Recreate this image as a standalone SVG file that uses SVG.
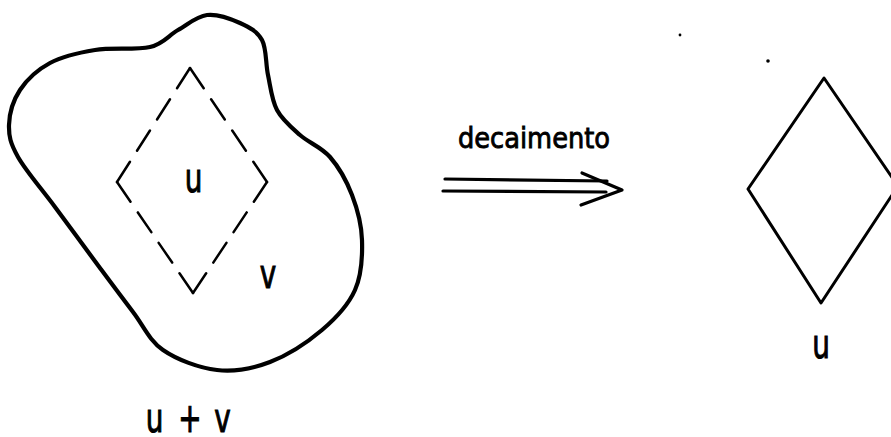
<svg xmlns="http://www.w3.org/2000/svg" width="891" height="437" viewBox="0 0 891 437">
<style>
.lbl{font-family:"DejaVu Sans","Liberation Sans",sans-serif;font-size:41px;fill:#000;stroke:#000;stroke-width:1.1px;text-anchor:middle}
.line{fill:none;stroke:#000;stroke-linecap:round;stroke-linejoin:round}
</style>
<rect width="891" height="437" fill="#fff"/>
<g id="blob">
<path class="line" stroke-width="4.2" d="M207,15 C217.3,13.8 230.8,18.8 240,23 C249.2,27.2 257.3,31.3 262,40 C266.7,48.7 265.5,63.3 268,75 C270.5,86.7 271.7,100 277,110 C282.3,120 291.2,127.2 300,135 C308.8,142.8 321.3,147 330,157 C338.7,167 346.7,181.2 352,195 C357.3,208.8 361.5,224.2 362,240 C362.5,255.8 361.7,275 355,290 C348.3,305 336.2,318 322,330 C307.8,342 287.5,355.3 270,362 C252.5,368.7 234.8,372 217,370 C199.2,368 177,359.7 163,350 C149,340.3 143.5,325.7 133,312 C122.5,298.3 113,285.5 100,268 C87,250.5 68.7,225.5 55,207 C41.3,188.5 25.7,170.7 18,157 C10.3,143.3 8.7,136.2 9,125 C9.3,113.8 13.2,100.3 20,90 C26.8,79.7 37.5,69.7 50,63 C62.5,56.3 78.3,52.7 95,50 C111.7,47.3 136.2,50.3 150,47 C163.8,43.7 168.5,35.3 178,30 C187.5,24.7 196.7,16.2 207,15 Z"/>
</g>
<g id="dashed-diamond">
<g class="line" stroke-width="2.5" stroke-dasharray="24 13" stroke-linecap="butt">
<path d="M190,68 L267,182" pathLength="135"/>
<path d="M267,182 L193,293" pathLength="135"/>
<path d="M193,293 L117,182" pathLength="135"/>
<path d="M117,182 L190,68" pathLength="135"/>
</g>
</g>
<g id="solid-diamond">
<path class="line" stroke-width="3" d="M824,78 L898,186 L821,303 L748,189 Z"/>
</g>
<g id="connectors">
<g class="line" stroke-width="3.2">
<path d="M445,179 L607,181"/>
<path d="M443,191 L606,192"/>
<path d="M582,173 L622,190 L581,205"/>
</g>
</g>
<g id="dots">
<circle cx="680" cy="35" r="1.4" fill="#000"/>
<circle cx="768" cy="61" r="1.8" fill="#000"/>
</g>
<g id="labels">
<text transform="scale(0.68 1)" class="lbl"><tspan x="284.6" y="192">u</tspan></text>
<text transform="scale(0.68 1)" class="lbl"><tspan x="394.1" y="288">v</tspan></text>
<text transform="scale(0.68 1)" class="lbl"><tspan x="227.2" y="432">u</tspan><tspan x="279.4" y="432">+</tspan><tspan x="327.2" y="432">v</tspan></text>
<text transform="scale(0.68 1)" class="lbl"><tspan x="1207.4" y="358">u</tspan></text>
<text x="458" y="148" font-family="DejaVu Sans, Liberation Sans, sans-serif" font-size="29" fill="#000" stroke="#000" stroke-width="0.9" textLength="152" lengthAdjust="spacingAndGlyphs">decaimento</text>
</g>
</svg>
